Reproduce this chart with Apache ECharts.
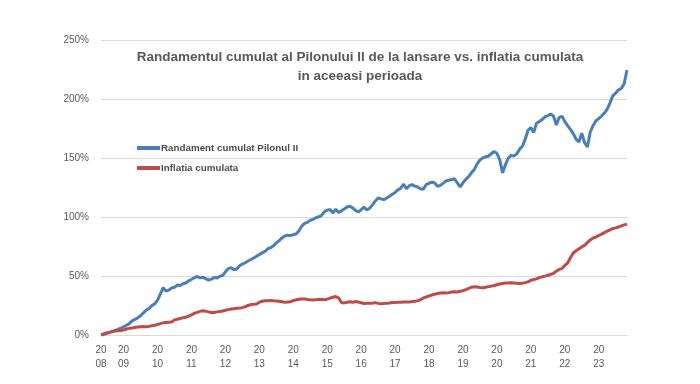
<!DOCTYPE html>
<html><head><meta charset="utf-8">
<script src="https://cdn.jsdelivr.net/npm/echarts@6/dist/echarts.min.js"></script>
<style>html,body{margin:0;padding:0;background:#fff}#c{width:700px;height:384px}</style>
</head><body><div id="c"></div>
<script>
// Monthly series from 2008-05 to 2023-11
var startYear = 2008, startMonth = 5, nMonths = 187;
var categories = [];
for (var i = 0; i < nMonths; i++) {
  var m = startMonth - 1 + i;
  var y = startYear + Math.floor(m / 12);
  var mm = (m % 12) + 1;
  categories.push(y + '-' + (mm < 10 ? '0' + mm : '' + mm));
}
var seriesNames = ['Randament cumulat Pilonul II', 'Inflatia cumulata'];
var yTicks = [0, 50, 100, 150, 200, 250];

var pilonul2 = [
  0.0, 0.6, 1.5, 2.2, 3.0, 3.9, 4.8, 5.8,
  7.0, 8.3, 9.6, 12.0, 13.2, 14.5, 16.3, 18.8, 21.2, 22.6, 24.9, 26.4,
  29.5, 34.8, 40.1, 37.2, 38.0, 39.8, 40.5, 42.3, 42.0, 43.5, 44.1, 46.0,
  47.2, 48.5, 49.6, 48.4, 48.9, 47.7, 46.5, 47.3, 48.8, 48.3, 49.8, 50.4,
  53.5, 56.2, 57.0, 55.4, 56.0, 58.6, 60.1, 61.2, 62.7, 64.0, 65.3, 66.8,
  68.2, 69.6, 70.8, 73.1, 74.0, 75.6, 78.1, 80.0, 82.3, 83.9, 84.6, 84.2,
  85.0, 85.6, 88.4, 92.3, 94.6, 95.4, 97.3, 98.0, 99.4, 100.2, 101.3, 104.6,
  105.8, 106.3, 103.4, 106.6, 103.9, 105.2, 106.8, 108.5, 109.1, 107.7, 105.6, 104.2,
  106.2, 108.3, 106.0, 107.4, 110.3, 113.6, 116.1, 115.4, 114.7, 116.0, 117.5, 119.3,
  120.8, 123.0, 124.4, 127.8, 124.0, 126.5, 127.4, 126.2, 125.4, 124.0, 123.6, 127.5,
  128.6, 129.6, 128.8, 126.0, 126.8, 128.7, 130.5, 131.2, 131.8, 132.4, 129.0, 125.6,
  129.0, 131.9, 134.3, 137.5, 140.2, 145.0, 148.3, 150.1, 151.0, 151.5, 153.6, 155.5,
  154.0, 148.5, 137.4, 144.2, 149.8, 152.2, 151.6, 153.5, 157.5, 159.8, 166.0, 173.5,
  175.8, 171.5, 179.5, 181.0, 182.6, 184.8, 185.9, 187.2, 185.6, 178.0, 184.2, 185.4,
  181.0, 177.5, 174.2, 170.6, 166.0, 163.5, 171.0, 163.0, 159.3, 172.0, 177.4, 181.6,
  183.4, 185.6, 188.0, 191.5, 196.8, 202.9, 205.0, 207.8, 208.9, 213.0, 224.5
];
var inflatia = [
  0.0, 0.9, 1.7, 2.2, 2.9, 3.3, 3.5, 3.9,
  4.3, 5.1, 5.6, 6.0, 6.4, 6.7, 7.0, 7.1, 7.0, 7.3, 7.8, 8.2,
  9.0, 9.6, 10.3, 10.6, 10.8, 11.0, 12.8, 13.4, 14.0, 14.6, 15.1, 15.9,
  17.0, 18.3, 19.2, 20.0, 20.5, 20.2, 19.6, 19.0, 19.1, 19.6, 19.9, 20.4,
  21.0, 21.5, 22.0, 22.3, 22.6, 22.8, 23.2, 24.0, 25.0, 25.8, 26.0, 26.3,
  27.8, 28.6, 29.0, 29.1, 29.3, 29.0, 28.9, 28.6, 28.2, 27.8, 27.9, 28.2,
  29.2, 29.8, 30.3, 30.5, 30.6, 30.1, 29.8, 29.6, 29.9, 30.2, 30.0, 29.8,
  30.4, 31.2, 32.0, 32.6, 31.5, 27.6, 27.2, 27.8, 28.2, 27.7, 28.3, 28.0,
  27.3, 26.6, 26.8, 26.9, 27.0, 27.4, 26.8, 26.5, 26.6, 27.0, 27.2, 27.5,
  27.6, 27.7, 27.8, 27.9, 28.0, 27.9, 28.3, 28.6, 29.0, 30.0, 31.4, 32.2,
  33.2, 33.9, 34.6, 35.2, 35.6, 35.8, 35.5, 35.9, 36.4, 36.7, 36.5, 37.0,
  37.6, 38.5, 39.4, 40.5, 40.9, 40.6, 40.3, 40.1, 40.5, 41.0, 41.4, 41.9,
  42.6, 43.2, 43.7, 44.1, 44.0, 44.2, 44.0, 43.8, 43.6, 43.9, 44.4, 45.0,
  46.4, 47.0, 47.6, 48.6, 49.3, 49.9, 50.6, 51.3, 52.3, 54.0, 55.6, 56.3,
  59.0, 61.0, 65.5, 69.5, 71.4, 73.0, 74.5, 76.0, 78.3, 80.6, 82.2, 83.0,
  84.3, 85.5, 86.8, 88.0, 89.1, 90.2, 90.8, 91.5, 92.4, 93.3, 94.0
];

var chart = echarts.init(document.getElementById('c'), null, {renderer: 'canvas'});
var fontFam = '"Liberation Sans", Arial, sans-serif';
chart.setOption({
  animation: false,
  backgroundColor: '#ffffff',
  title: {
    text: 'Randamentul cumulat al Pilonului II de la lansare vs. inflatia cumulata\nin aceeasi perioada',
    left: 360, top: 48, textAlign: 'center', padding: 0,
    textStyle: {fontFamily: fontFam, fontSize: 13.5, fontWeight: 'bold', color: '#595959', lineHeight: 19}
  },
  legend: {
    orient: 'vertical', left: 137, top: 143, itemGap: 10, padding: 0,
    icon: 'rect', itemWidth: 23, itemHeight: 4,
    textStyle: {fontFamily: fontFam, fontSize: 9.8, fontWeight: 'bold', color: '#4d4d4d', padding: [0, 0, 0, -4]},
    data: seriesNames
  },
  grid: {left: 101, right: 73, top: 40, bottom: 49},
  xAxis: {
    type: 'category', data: categories, boundaryGap: false,
    axisLine: {show: true, lineStyle: {color: '#d9d9d9', width: 1}},
    axisTick: {show: false},
    axisLabel: {
      interval: function (idx, val) { return idx === 0 || val.slice(5) === '01'; },
      formatter: function (val) { return val.slice(0, 2) + '\n' + val.slice(2, 4); },
      color: '#595959', fontFamily: fontFam, fontSize: 10, lineHeight: 14, margin: 8
    },
    splitLine: {show: false}
  },
  yAxis: {
    type: 'value', min: yTicks[0], max: yTicks[yTicks.length - 1], interval: 50,
    axisLine: {show: false}, axisTick: {show: false},
    axisLabel: {formatter: '{value}%', color: '#595959', fontFamily: fontFam, fontSize: 10, margin: 12},
    splitLine: {lineStyle: {color: '#d9d9d9', width: 1}}
  },
  series: [
    {name: seriesNames[0], type: 'line', data: pilonul2, showSymbol: false, symbol: 'none',
     lineStyle: {width: 3, color: '#4A7EBB'}, itemStyle: {color: '#4A7EBB'}},
    {name: seriesNames[1], type: 'line', data: inflatia, showSymbol: false, symbol: 'none',
     lineStyle: {width: 3, color: '#BE4B48'}, itemStyle: {color: '#BE4B48'}}
  ]
});
</script>
</body></html>
